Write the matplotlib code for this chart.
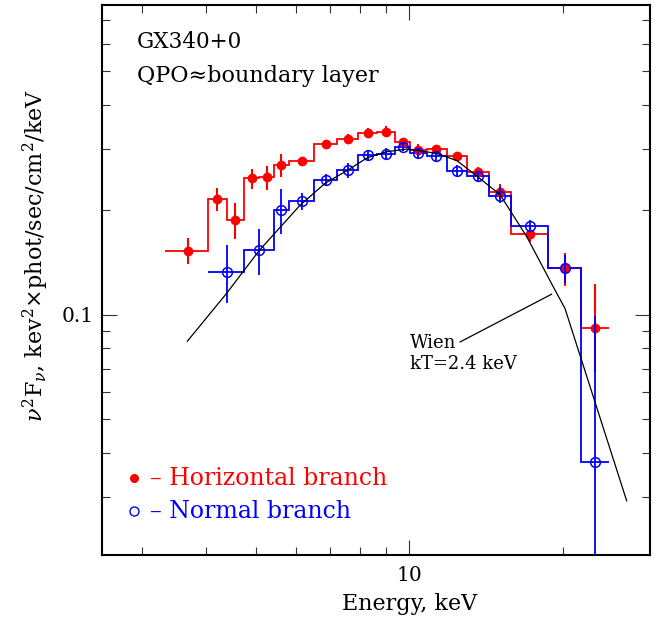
import numpy as np
import matplotlib
matplotlib.use("Agg")
from matplotlib import pyplot as plt
from matplotlib.ticker import FixedLocator, NullFormatter, FixedFormatter

plt.rcParams['font.family'] = ['DejaVu Serif']
plt.rcParams['mathtext.fontset'] = 'dejavuserif'

# Horizontal branch spectrum (energies in keV, nu^2 F_nu)
hb_edges = [3.327, 4.027, 4.387, 4.738, 5.085, 5.439, 5.812, 6.515, 7.218, 7.935,
            8.645, 9.389, 10.05, 10.83, 11.85, 12.97, 14.37, 15.84, 18.74, 21.70, 24.64]
hb_energy = [3.68, 4.21, 4.56, 4.92, 5.26, 5.62, 6.16, 6.86, 7.59, 8.29,
             9.02, 9.72, 10.41, 11.31, 12.42, 13.67, 15.10, 17.29, 20.24, 23.17]
hb_flux = [0.1526, 0.2147, 0.1869, 0.2472, 0.2484, 0.2689, 0.2767, 0.3096, 0.3187, 0.3323,
           0.3345, 0.3125, 0.2970, 0.2990, 0.2848, 0.2567, 0.2245, 0.1703, 0.1358, 0.0917]
hb_lo = [0.1397, 0.1987, 0.1645, 0.2290, 0.2279, 0.2489, 0.2713, 0.3015, 0.3082, 0.3229,
         0.3244, 0.3036, 0.2854, 0.2911, 0.2767, 0.2484, 0.2109, 0.1619, 0.1208, 0.0684]
hb_hi = [0.1656, 0.2304, 0.2087, 0.2614, 0.2676, 0.2892, 0.2822, 0.3179, 0.3295, 0.3427,
         0.3480, 0.3208, 0.3090, 0.3070, 0.2924, 0.2653, 0.2371, 0.1788, 0.1505, 0.1221]

# Normal branch spectrum
nb_edges = [4.027, 4.738, 5.439, 5.812, 6.515, 7.218, 7.935, 8.645, 9.389,
            10.05, 10.83, 11.85, 12.97, 14.37, 15.84, 18.74, 21.70, 24.64]
nb_energy = [4.39, 5.08, 5.62, 6.16, 6.86, 7.59, 8.29, 9.02, 9.72,
             10.41, 11.31, 12.42, 13.67, 15.10, 17.29, 20.24, 23.17]
nb_flux = [0.1330, 0.1530, 0.2000, 0.2119, 0.2430, 0.2601, 0.2868, 0.2898, 0.3036,
           0.2905, 0.2854, 0.2584, 0.2495, 0.2195, 0.1792, 0.1358, 0.0377]
nb_lo = [0.1081, 0.1304, 0.1700, 0.1996, 0.2336, 0.2462, 0.2774, 0.2780, 0.2956,
         0.2794, 0.2760, 0.2489, 0.2413, 0.2087, 0.1729, 0.1232, 0.005]
nb_hi = [0.1584, 0.1758, 0.2290, 0.2230, 0.2528, 0.2719, 0.2965, 0.3003, 0.3119,
         0.3020, 0.2950, 0.2689, 0.2580, 0.2329, 0.1869, 0.1483, 0.0992]

# Wien model curve, kT = 2.4 keV
wien_e = [3.675, 4.387, 5.085, 6.117, 6.849, 7.586, 8.276, 9.016, 9.897, 10.51,
          11.33, 12.42, 13.63, 15.08, 17.01, 19.17, 20.21, 26.70]
wien_f = [0.0839, 0.1151, 0.1530, 0.2064, 0.2386, 0.2601, 0.2822, 0.2936, 0.2990, 0.2956,
          0.2905, 0.2767, 0.2489, 0.2210, 0.1674, 0.1202, 0.1042, 0.0292]
leader_e = [12.59, 19.03]
leader_f = [0.0835, 0.1145]

x_major = [10]
x_minor = [3, 4, 5, 6, 7, 8, 9, 20]
y_major = [0.1]
y_minor = [0.03, 0.04, 0.05, 0.06, 0.07, 0.08, 0.09, 0.2, 0.3, 0.4, 0.5, 0.6, 0.7]

fig = plt.figure(figsize=(6.59, 6.2), dpi=100)
ax = fig.add_axes([0.1548, 0.1048, 0.8308, 0.8871])
ax.set_xscale('log')
ax.set_yscale('log')
ax.set_xlim(2.5, 29.6)
ax.set_ylim(0.0204, 0.775)

# histograms
ax.stairs(hb_flux, hb_edges, baseline=None, color='red', lw=1.3)
ax.stairs(nb_flux, nb_edges, baseline=None, color='blue', lw=1.3)

# error bars and points
hb_flux = np.array(hb_flux)
nb_flux = np.array(nb_flux)
ax.errorbar(hb_energy, hb_flux,
            yerr=[hb_flux - np.array(hb_lo), np.array(hb_hi) - hb_flux],
            fmt='none', ecolor='red', elinewidth=1.5, capsize=0)
ax.plot(hb_energy, hb_flux, 'o', color='red', ms=6, mec='red')
ax.errorbar(nb_energy, nb_flux,
            yerr=[nb_flux - np.array(nb_lo), np.array(nb_hi) - nb_flux],
            fmt='none', ecolor='blue', elinewidth=1.3, capsize=0)
ax.plot(nb_energy, nb_flux, 'o', color='blue', ms=7, mfc='none', mew=1.1)

# Wien curve
ax.plot(wien_e, wien_f, color='black', lw=0.9)
ax.plot(leader_e, leader_f, color='black', lw=0.9)
ax.text(0.5626, 0.3855, 'Wien', transform=ax.transAxes, fontsize=13, va='center')
ax.text(0.5626, 0.3476, 'kT=2.4 keV', transform=ax.transAxes, fontsize=13, va='center')

# labels inside
ax.text(0.064, 0.932, 'GX340+0', transform=ax.transAxes, fontsize=15.5, va='center')
ax.text(0.064, 0.871, 'QPO\u2248boundary layer', transform=ax.transAxes, fontsize=16, va='center')

# legend
ax.plot([0.0584], [0.140], 'o', color='red', ms=5.5, transform=ax.transAxes)
ax.plot([0.0584], [0.080], 'o', color='blue', ms=6.5, mfc='none', mew=1, transform=ax.transAxes)
ax.text(0.088, 0.140, '\u2013 Horizontal branch', transform=ax.transAxes,
        fontsize=17, color='red', va='center')
ax.text(0.088, 0.080, '\u2013 Normal branch', transform=ax.transAxes,
        fontsize=17, color='blue', va='center')

# ticks
ax.xaxis.set_major_locator(FixedLocator(x_major))
ax.xaxis.set_minor_locator(FixedLocator(x_minor))
ax.xaxis.set_major_formatter(FixedFormatter(['10']))
ax.xaxis.set_minor_formatter(NullFormatter())
ax.yaxis.set_major_locator(FixedLocator(y_major))
ax.yaxis.set_minor_locator(FixedLocator(y_minor))
ax.yaxis.set_major_formatter(FixedFormatter(['0.1']))
ax.yaxis.set_minor_formatter(NullFormatter())
ax.tick_params(which='both', direction='in', top=True, right=True, width=0.8,
               color='#333333', labelsize=14.5)
ax.tick_params(which='major', length=11, pad=8)
ax.tick_params(axis='y', which='major', pad=6)
ax.tick_params(which='minor', length=5.5)
for s in ax.spines.values():
    s.set_linewidth(1.5)

ax.set_xlabel('Energy, keV', fontsize=16, va='center')
ax.xaxis.set_label_coords(0.5626, -0.089)
ax.set_ylabel(r'$\nu^2$F$_\nu$, kev$^2$$\times$phot/sec/cm$^2$/keV', fontsize=16, va='center')
ax.yaxis.set_label_coords(-0.12, 0.544)

fig.savefig('out.png', dpi=100)
